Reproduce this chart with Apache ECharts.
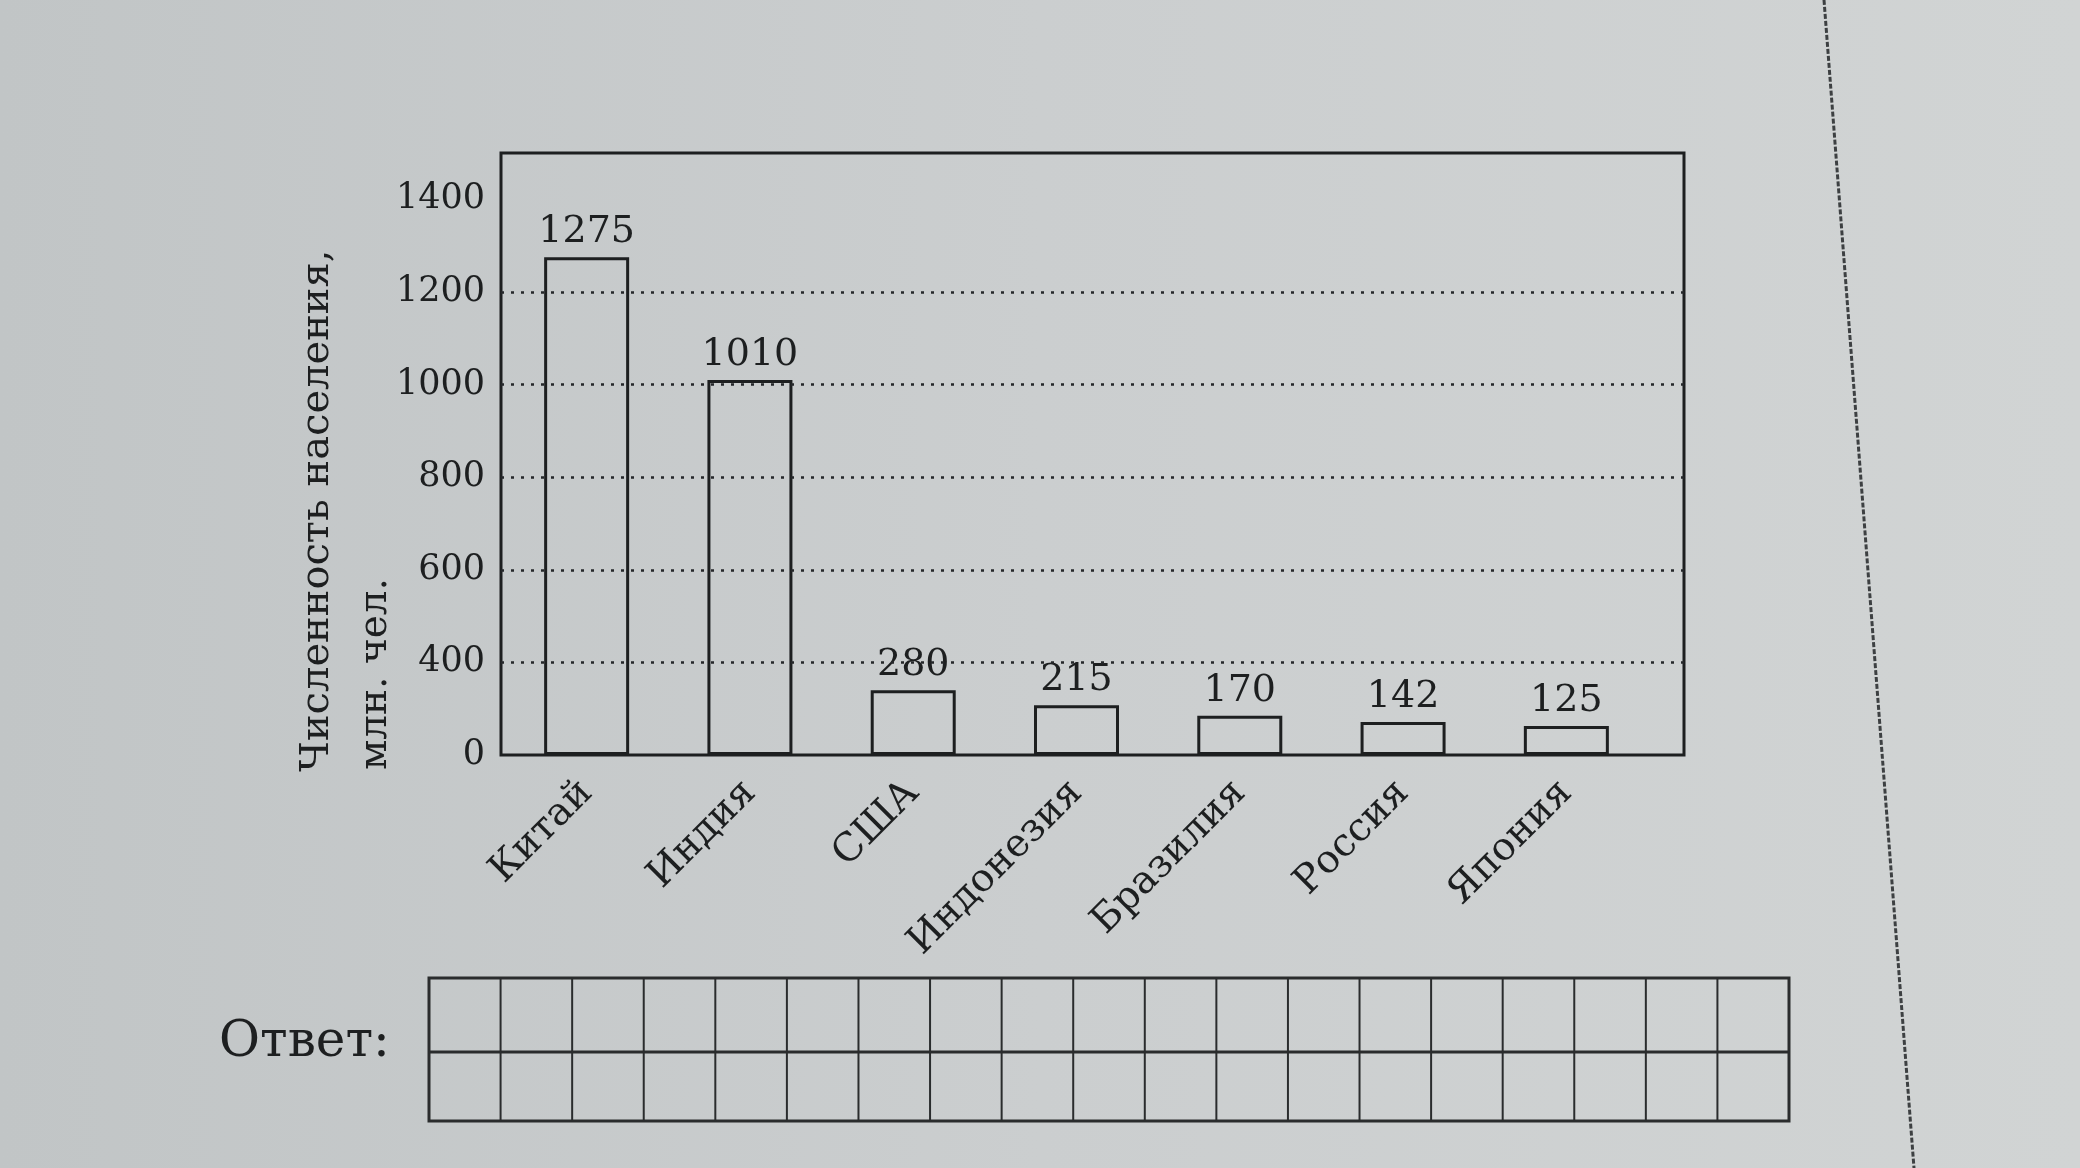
<!DOCTYPE html>
<html>
<head>
<meta charset="utf-8">
<script src="https://cdn.jsdelivr.net/npm/echarts@6/dist/echarts.min.js"></script>
<style>
	html, body { margin: 0; padding: 0; background: #c8cbcc; }
	#chart { width: 2080px; height: 1168px; }
</style>
</head>
<body>
<div id="chart"></div>
<script>
/**
 * Численность населения по странам
 * */

// данные
var countries = ['Китай', 'Индия', 'США', 'Индонезия', 'Бразилия', 'Россия', 'Япония'];
var population = [1275, 1010, 280, 215, 170, 142, 125];
var yLabels = [0, 400, 600, 800, 1000, 1200, 1400];
var gridValues = [400, 600, 800, 1000, 1200];
var yName1 = 'Численность населения,';
var yName2 = 'млн. чел.';
var answerText = 'Ответ:';

var ink = '#1d1f20';
var serif = 'DejaVu Serif';

//ось Y (одинаковая для рамки и для столбиков)
function makeY(idx, showLabels) {
	return {
		type: 'value',
		gridIndex: idx,
		min: 0,
		max: 1500,
		interval: 200,
		//0-400 сжаты в один шаг, как в оригинале
		breaks: [{ start: 0, end: 400, gap: 200 }],
		breakArea: { show: false },
		axisLine: { show: false },
		axisTick: { show: false },
		splitLine: { show: false },
		axisLabel: {
			show: showLabels,
			margin: 16,
			color: ink,
			fontFamily: serif,
			fontSize: 35,
			formatter: function(v) {
				return yLabels.indexOf(v) > -1 ? String(v) : '';
			}
		}
	};
}

//клетки для ответа
var cells = [];
var cellX0 = 429, cellX1 = 1789, cellTop = 978, cellMid = 1052, cellBot = 1121, nCells = 19;
cells.push({
	type: 'rect', silent: true,
	shape: { x: cellX0, y: cellTop, width: cellX1 - cellX0, height: cellBot - cellTop },
	style: { fill: 'none', stroke: '#2a2c2d', lineWidth: 3 }
});
cells.push({
	type: 'line', silent: true,
	shape: { x1: cellX0, y1: cellMid, x2: cellX1, y2: cellMid },
	style: { stroke: '#2a2c2d', lineWidth: 3 }
});
for (var i = 1; i < nCells; i++) {
	var cx = cellX0 + (cellX1 - cellX0) * i / nCells;
	cells.push({
		type: 'line', silent: true,
		shape: { x1: cx, y1: cellTop, x2: cx, y2: cellBot },
		style: { stroke: '#2a2c2d', lineWidth: 2 }
	});
}

var option = {
	backgroundColor: {
		type: 'linear', x: 0, y: 0, x2: 1, y2: 0,
		colorStops: [
			{ offset: 0, color: '#c1c5c6' },
			{ offset: 0.5, color: '#cbcecf' },
			{ offset: 1, color: '#d1d4d4' }
		]
	},
	animation: false,
	grid: [
		//рамка
		{ left: 501, right: 396, top: 153, bottom: 413, show: true, borderColor: ink, borderWidth: 3, backgroundColor: 'transparent' },
		//столбики
		{ left: 505, right: 432, top: 153, bottom: 413 }
	],
	xAxis: [
		{ type: 'value', gridIndex: 0, min: 0, max: 1, show: false },
		{
			type: 'category',
			gridIndex: 1,
			data: countries,
			axisLine: { show: false },
			axisTick: { show: false },
			axisLabel: {
				rotate: 45,
				margin: 32,
				color: ink,
				fontFamily: serif,
				fontSize: 39
			}
		}
	],
	yAxis: [makeY(0, true), makeY(1, false)],
	series: [{
		//пунктирные линии сетки
		type: 'line',
		xAxisIndex: 0,
		yAxisIndex: 0,
		data: [],
		silent: true,
		markLine: {
			silent: true,
			symbol: 'none',
			label: { show: false },
			lineStyle: { color: '#25272a', width: 2.5, type: [3, 7] },
			data: gridValues.map(function(v) { return { yAxis: v }; })
		}
	}, {
		type: 'bar',
		xAxisIndex: 1,
		yAxisIndex: 1,
		data: population,
		barWidth: 85,
		itemStyle: { color: 'rgba(0,0,0,0)', borderColor: ink, borderWidth: 3 },
		label: {
			show: true,
			position: 'top',
			distance: 6,
			color: ink,
			fontFamily: serif,
			fontSize: 38
		}
	}],
	graphic: [{
		type: 'text', silent: true,
		x: 318, y: 772, rotation: Math.PI / 2,
		style: { text: yName1, fill: ink, font: '40px "DejaVu Serif"', align: 'left', verticalAlign: 'middle' }
	}, {
		type: 'text', silent: true,
		x: 376, y: 770, rotation: Math.PI / 2,
		style: { text: yName2, fill: ink, font: '39px "DejaVu Serif"', align: 'left', verticalAlign: 'middle' }
	}, {
		type: 'text', silent: true,
		x: 219, y: 1043,
		style: { text: answerText, fill: ink, font: '50px "DejaVu Serif"', align: 'left', verticalAlign: 'middle' }
	}, {
		//край листа
		type: 'line', silent: true,
		shape: { x1: 1824, y1: 0, x2: 1914, y2: 1168 },
		style: { stroke: '#3d4042', lineWidth: 3, lineDash: [5, 2] }
	}].concat(cells)
};

var myChart = echarts.init(document.getElementById('chart'));
myChart.setOption(option);
</script>
</body>
</html>
